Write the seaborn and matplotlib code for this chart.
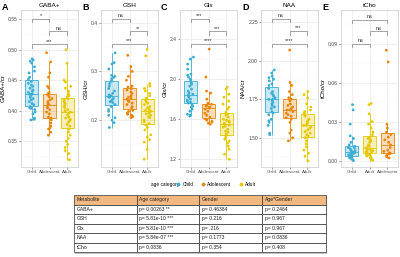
import numpy as np
import pandas as pd
import matplotlib
matplotlib.use('Agg')
import matplotlib.pyplot as plt
import seaborn as sns
from matplotlib.ticker import AutoMinorLocator
from matplotlib.lines import Line2D
from matplotlib.patches import Rectangle

# ================= data =================
groups = ['Child', 'Adolescent', 'Adult']
colors = {'Child': '#3CAED4', 'Adolescent': '#E8860C', 'Adult': '#E5C800'}

gaba_child = [0.485, 0.483, 0.481, 0.478, 0.472, 0.465, 0.462, 0.455, 0.452, 0.448, 0.445, 0.442,
              0.440, 0.437, 0.434, 0.432, 0.430, 0.428, 0.427, 0.425, 0.422, 0.420, 0.418, 0.415,
              0.412, 0.410, 0.407, 0.405, 0.404, 0.402, 0.398, 0.395, 0.388, 0.386, 0.385]
gaba_adol = [0.495, 0.480, 0.462, 0.455, 0.440, 0.437, 0.430, 0.428, 0.426, 0.423, 0.420, 0.418,
             0.415, 0.412, 0.410, 0.408, 0.405, 0.402, 0.398, 0.395, 0.390, 0.388, 0.385, 0.380,
             0.375, 0.370, 0.365, 0.360, 0.372]
gaba_adult = [0.500, 0.478, 0.450, 0.447, 0.440, 0.437, 0.432, 0.428, 0.425, 0.423, 0.420, 0.418,
              0.415, 0.412, 0.410, 0.407, 0.405, 0.402, 0.400, 0.398, 0.396, 0.393, 0.390, 0.388,
              0.386, 0.384, 0.382, 0.378, 0.375, 0.370, 0.365, 0.360, 0.355, 0.350, 0.345, 0.340,
              0.335, 0.330, 0.320]

gsh_child = [0.338, 0.318, 0.315, 0.305, 0.292, 0.290, 0.288, 0.285, 0.280, 0.275, 0.270, 0.265,
             0.260, 0.255, 0.252, 0.250, 0.248, 0.247, 0.245, 0.243, 0.240, 0.238, 0.236, 0.232,
             0.228, 0.222, 0.218, 0.210, 0.205, 0.200, 0.195, 0.185]
gsh_adol = [0.333, 0.310, 0.300, 0.290, 0.282, 0.270, 0.268, 0.265, 0.262, 0.258, 0.255, 0.250,
            0.247, 0.245, 0.243, 0.240, 0.238, 0.235, 0.232, 0.228, 0.225, 0.220, 0.218, 0.215,
            0.212, 0.210, 0.207, 0.205]
gsh_adult = [0.345, 0.332, 0.275, 0.270, 0.265, 0.260, 0.255, 0.250, 0.245, 0.240, 0.237, 0.235,
             0.232, 0.228, 0.225, 0.222, 0.220, 0.218, 0.215, 0.213, 0.210, 0.207, 0.205, 0.200,
             0.197, 0.193, 0.190, 0.185, 0.180, 0.170, 0.165, 0.160, 0.155, 0.140, 0.120]

glx_child = [2.22, 2.20, 2.15, 2.10, 2.05, 2.04, 2.02, 2.00, 1.98, 1.96, 1.95, 1.93, 1.90, 1.88,
             1.86, 1.85, 1.84, 1.83, 1.82, 1.80, 1.79, 1.78, 1.77, 1.76, 1.75, 1.73, 1.72, 1.70,
             1.68, 1.65, 1.64, 1.63]
glx_adol = [2.30, 2.02, 1.88, 1.86, 1.80, 1.76, 1.75, 1.74, 1.73, 1.72, 1.72, 1.71, 1.70, 1.68,
            1.66, 1.64, 1.62, 1.60, 1.59, 1.58, 1.57, 1.56, 1.55]
glx_adult = [1.92, 1.90, 1.85, 1.82, 1.78, 1.75, 1.72, 1.70, 1.67, 1.65, 1.64, 1.62, 1.60, 1.59,
             1.58, 1.57, 1.56, 1.55, 1.54, 1.53, 1.52, 1.50, 1.48, 1.47, 1.45, 1.44, 1.42, 1.40,
             1.38, 1.36, 1.33, 1.30, 1.25, 1.20]

naa_child = [1.94, 1.92, 1.90, 1.89, 1.88, 1.87, 1.85, 1.84, 1.82, 1.80, 1.79, 1.78, 1.77, 1.76,
             1.75, 1.75, 1.74, 1.73, 1.72, 1.71, 1.70, 1.69, 1.67, 1.66, 1.65, 1.62, 1.61, 1.60,
             1.58, 1.53, 1.52]
naa_adol = [2.07, 1.86, 1.84, 1.80, 1.78, 1.76, 1.75, 1.74, 1.72, 1.71, 1.70, 1.69, 1.68, 1.68,
            1.67, 1.66, 1.65, 1.64, 1.63, 1.62, 1.60, 1.55, 1.53, 1.50, 1.48]
naa_adult = [1.80, 1.78, 1.76, 1.72, 1.70, 1.68, 1.67, 1.66, 1.65, 1.64, 1.62, 1.61, 1.60, 1.59,
             1.58, 1.58, 1.57, 1.56, 1.55, 1.54, 1.53, 1.52, 1.51, 1.50, 1.48, 1.46, 1.44, 1.42,
             1.40, 1.38, 1.35]

tcho_child = [0.043, 0.039, 0.028, 0.019, 0.017, 0.014, 0.012, 0.011, 0.010, 0.0095, 0.009, 0.008,
              0.0075, 0.007, 0.0065, 0.006, 0.006, 0.0055, 0.005, 0.0045, 0.004, 0.0035, 0.003,
              0.0025, 0.002, 0.0015, 0.001, 0.0005, 0.0]
tcho_adol = [0.085, 0.076, 0.028, 0.025, 0.022, 0.020, 0.018, 0.016, 0.014, 0.012, 0.010, 0.008,
             0.007, 0.006, 0.0055, 0.005, 0.004, 0.003, 0.002]
tcho_adult = [0.044, 0.043, 0.036, 0.030, 0.028, 0.025, 0.022, 0.020, 0.018, 0.017, 0.016, 0.015,
              0.014, 0.012, 0.011, 0.010, 0.009, 0.0085, 0.008, 0.0075, 0.007, 0.0065, 0.006,
              0.005, 0.0045, 0.004, 0.0035, 0.003, 0.002, 0.001, 0.0]

# significance brackets: (pair, label)
gaba_sig = [((0, 1), '*'), ((1, 2), 'ns'), ((0, 2), '***')]
gsh_sig = [((0, 1), 'ns'), ((1, 2), '**'), ((0, 2), '***')]
glx_sig = [((0, 1), '***'), ((1, 2), '***'), ((0, 2), '****')]
naa_sig = [((0, 1), 'ns'), ((1, 2), '***'), ((0, 2), '****')]
tcho_sig = [((0, 2), 'ns'), ((1, 2), 'ns'), ((0, 1), 'ns')]

# table
table_header = ['Metabolite', 'Age category', 'Gender', 'Age*Gender']
table_metab = ['GABA+', 'GSH', 'Glx', 'NAA', 'tCho']
table_age = ['p= 0.00263 **', 'p= 5.81e-10 ***', 'p= 5.81e-10 ***', 'p= 5.84e-07 ***', 'p= 0.0836']
table_gender = ['p= 0.46384', 'p= 0.216', 'p= .216', 'p= 0.1773', 'p= 0.354']
table_inter = ['p= 0.2464', 'p= 0.967', 'p= 0.967', 'p= 0.0836', 'p= 0.408']

# ================= panel layout =================
panels = [
    dict(letter='A', title='GABA+', ylabel='GABA+/cr', order=groups,
         data={'Child': gaba_child, 'Adolescent': gaba_adol, 'Adult': gaba_adult},
         ticks=[0.35, 0.40, 0.45, 0.50, 0.55], fmt='{:.2f}', ylim=(0.308, 0.565),
         sig=gaba_sig, sig_y=[0.551, 0.530, 0.509]),
    dict(letter='B', title='GSH', ylabel='GSH/cr', order=groups,
         data={'Child': gsh_child, 'Adolescent': gsh_adol, 'Adult': gsh_adult},
         ticks=[0.2, 0.3, 0.4], fmt='{:.1f}', ylim=(0.104, 0.426),
         sig=gsh_sig, sig_y=[0.4075, 0.382, 0.357]),
    dict(letter='C', title='Glx', ylabel='Glx/cr', order=groups,
         data={'Child': glx_child, 'Adolescent': glx_adol, 'Adult': glx_adult},
         ticks=[1.2, 1.6, 2.0, 2.4], fmt='{:.1f}', ylim=(1.123, 2.69),
         sig=glx_sig, sig_y=[2.603, 2.477, 2.353]),
    dict(letter='D', title='NAA', ylabel='NAA/cr', order=groups,
         data={'Child': naa_child, 'Adolescent': naa_adol, 'Adult': naa_adult},
         ticks=[1.50, 1.75, 2.00, 2.25], fmt='{:.2f}', ylim=(1.31, 2.33),
         sig=naa_sig, sig_y=[2.274, 2.193, 2.112]),
    dict(letter='E', title='tCho', ylabel='tCho/cr', order=['Child', 'Adult', 'Adolescent'],
         data={'Child': tcho_child, 'Adolescent': tcho_adol, 'Adult': tcho_adult},
         ticks=[0.00, 0.03, 0.06, 0.09], fmt='{:.2f}', ylim=(-0.005, 0.116),
         sig=tcho_sig, sig_y=[0.1086, 0.0995, 0.090]),
]

plt.rcParams['font.family'] = ['Liberation Sans', 'DejaVu Sans']

W, H = 400, 257
fig = plt.figure(figsize=(W / 100, H / 100), dpi=100)
np.random.seed(3)

lefts = [21, 101, 180, 261, 341]
for p, left in zip(panels, lefts):
    ax = fig.add_axes([left / W, 1 - 167 / H, 57 / W, 157 / H])
    rows = []
    for g in p['order']:
        for v in p['data'][g]:
            rows.append((g, v))
    df = pd.DataFrame(rows, columns=['age', 'val'])

    sns.boxplot(data=df, x='age', y='val', hue='age', order=p['order'], hue_order=p['order'],
                palette=colors, width=0.75, showcaps=False, showfliers=False, saturation=1,
                linewidth=0.6, legend=False, ax=ax)
    # ggplot look: coloured outline, light fill
    for patch in ax.patches:
        fc = patch.get_facecolor()
        patch.set_edgecolor(fc[:3])
        patch.set_facecolor((*fc[:3], 0.28))
    for ln in ax.lines:
        idx = int(round(np.mean(ln.get_xdata())))
        ln.set_color(colors[p['order'][idx]])

    sns.stripplot(data=df, x='age', y='val', hue='age', order=p['order'], hue_order=p['order'],
                  palette=colors, jitter=0.2, size=2.0, linewidth=0, legend=False, ax=ax)

    # significance brackets
    yr = p['ylim'][1] - p['ylim'][0]
    for ((a, b), lab), y in zip(p['sig'], p['sig_y']):
        tk = yr * 0.022
        ax.plot([a, a, b, b], [y - tk, y, y, y - tk], color='#7f7f7f', lw=0.5, clip_on=False)
        ax.text((a + b) / 2, y + yr * 0.004, lab, ha='center', va='bottom', fontsize=4,
                color='#333333')

    ax.set_xlim(-0.6, 2.6)
    ax.set_ylim(*p['ylim'])
    ax.set_yticks(p['ticks'])
    ax.set_yticklabels([p['fmt'].format(t) for t in p['ticks']])
    ax.yaxis.set_minor_locator(AutoMinorLocator(2))
    ax.set_xlabel('')
    ax.set_ylabel(p['ylabel'], fontsize=4.5, labelpad=1.5)
    ax.set_title(p['title'], fontsize=4.6, pad=2.5)
    ax.set_facecolor('white')
    ax.grid(True, which='major', color='#e4e4e4', lw=0.4)
    ax.grid(True, which='minor', color='#f1f1f1', lw=0.3)
    ax.xaxis.grid(True, which='major', color='#e4e4e4', lw=0.4)
    ax.set_axisbelow(True)
    for s in ax.spines.values():
        s.set_color('#cccccc')
        s.set_linewidth(0.5)
    ax.tick_params(labelsize=3.6, colors='#4d4d4d', length=1.2, width=0.4, pad=1)
    ax.tick_params(axis='x', labelsize=3.2)
    ax.tick_params(which='minor', length=0)
    fig.text((left - 19) / W, 1 - 7 / H, p['letter'], fontsize=6.5, weight='bold',
             ha='left', va='center')

# ================= legend =================
fig.text(165 / W, 1 - 184.5 / H, 'age category', fontsize=3.4, ha='center', va='center')
handles = [(Line2D([], [], marker='o', ls='', color=colors[g], ms=1.6),
            Line2D([], [], marker='+', ls='', color=colors[g], ms=2.5, mew=0.4)) for g in groups]
fig.legend(handles, groups, loc='center', bbox_to_anchor=(216 / W, 1 - 184.5 / H), ncol=3,
           frameon=False, fontsize=3.4, handlelength=0.8, handletextpad=0.5, columnspacing=1.6,
           borderpad=0)

# ================= table =================
tx0, ty0, tw, th = 74, 195, 252, 57
sax = fig.add_axes([(tx0 + 1) / W, 1 - (ty0 + th + 2) / H, tw / W, th / H])
sax.axis('off')
sax.add_patch(Rectangle((0, 0), 1, 1, transform=sax.transAxes, facecolor='#c4c4c4',
                        edgecolor='none'))
tax = fig.add_axes([tx0 / W, 1 - (ty0 + th) / H, tw / W, th / H])
tax.axis('off')
cells = [[m, a, g, i] for m, a, g, i in zip(table_metab, table_age, table_gender, table_inter)]
tbl = tax.table(cellText=cells, colLabels=table_header, cellLoc='left', colLoc='left',
                bbox=[0, 0, 1, 1], colWidths=[0.25, 0.246, 0.25, 0.254])
tbl.auto_set_font_size(False)
for (r, c), cell in tbl.get_celld().items():
    cell.set_linewidth(0.5)
    cell.set_edgecolor('#333333')
    cell.set_facecolor('#F2B880' if r == 0 else 'white')
    cell.get_text().set_fontsize(3.6)
    cell.get_text().set_color('#222222')
    cell.PAD = 0.04

fig.savefig('out.png', dpi=100)
